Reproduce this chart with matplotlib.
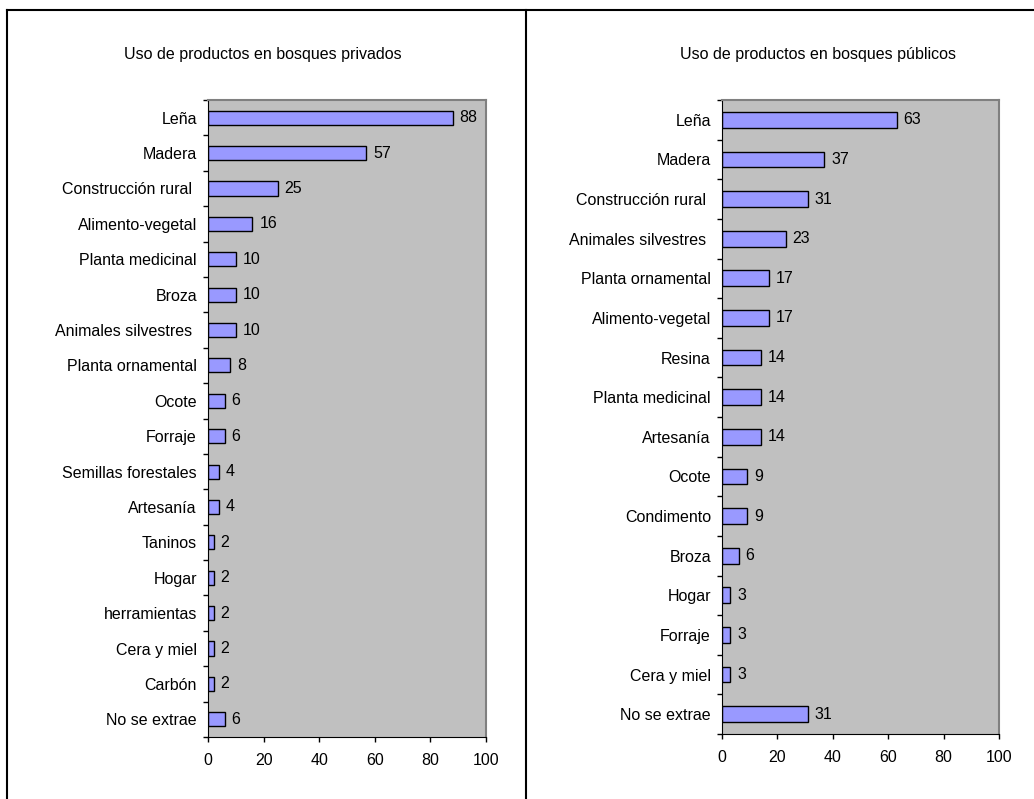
import matplotlib.pyplot as plt
from matplotlib.lines import Line2D

plt.rcParams['font.family'] = ['Liberation Sans', 'DejaVu Sans']

priv_labels = ['Leña', 'Madera', 'Construcción rural ', 'Alimento-vegetal', 'Planta medicinal',
               'Broza', 'Animales silvestres ', 'Planta ornamental', 'Ocote', 'Forraje',
               'Semillas forestales', 'Artesanía', 'Taninos', 'Hogar', 'herramientas',
               'Cera y miel', 'Carbón', 'No se extrae']
priv_values = [88, 57, 25, 16, 10, 10, 10, 8, 6, 6, 4, 4, 2, 2, 2, 2, 2, 6]

pub_labels = ['Leña', 'Madera', 'Construcción rural ', 'Animales silvestres ', 'Planta ornamental',
              'Alimento-vegetal', 'Resina', 'Planta medicinal', 'Artesanía', 'Ocote',
              'Condimento', 'Broza', 'Hogar', 'Forraje', 'Cera y miel', 'No se extrae']
pub_values = [63, 37, 31, 23, 17, 17, 14, 14, 14, 9, 9, 6, 3, 3, 3, 31]

xticks = [0, 20, 40, 60, 80, 100]

W, H = 1034, 799
FS = 11.5
fig = plt.figure(figsize=(W / 100, H / 100), dpi=100)


def px_axes(x0, y0, x1, y1):
    return fig.add_axes([x0 / W, 1 - y1 / H, (x1 - x0) / W, (y1 - y0) / H])


def draw_panel(ax, labels, values, title, cx):
    n = len(labels)
    pos = list(range(n))
    ax.set_facecolor('#C0C0C0')
    ax.barh(pos, values, height=0.4, color='#9999FF', edgecolor='black', linewidth=1)
    for p, v in zip(pos, values):
        ax.annotate(str(v), (v, p), xytext=(5, 0), textcoords='offset points',
                    va='center', ha='left', fontsize=FS)
    ax.set_xlim(0, 100)
    ax.set_ylim(n - 0.5, -0.5)
    ax.set_xticks(xticks)
    ax.set_xticklabels([str(t) for t in xticks], fontsize=FS)
    ax.set_yticks([p - 0.5 for p in pos] + [n - 0.5])
    ax.set_yticklabels([])
    ax.set_yticks(pos, minor=True)
    ax.set_yticklabels(labels, minor=True, fontsize=FS)
    ax.tick_params(axis='y', which='minor', length=0, pad=8)
    ax.tick_params(axis='y', which='major', length=3.5, width=1)
    ax.tick_params(axis='x', length=3.5, width=1, pad=8)
    for s in ['top', 'right']:
        ax.spines[s].set_color('#808080')
        ax.spines[s].set_linewidth(1.5)
    for s in ['left', 'bottom']:
        ax.spines[s].set_color('black')
    fig.text(cx / W, 1 - 55 / H, title, ha='center', va='center', fontsize=FS)


ax1 = px_axes(208, 100, 486, 737)
draw_panel(ax1, priv_labels, priv_values, 'Uso de productos en bosques privados', 263)

ax2 = px_axes(722, 100, 999, 734)
draw_panel(ax2, pub_labels, pub_values, 'Uso de productos en bosques públicos', 818)

# outer frame
for xs, ys in [([7, W], [10, 10]), ([7, 7], [10, H]), ([526, 526], [10, H])]:
    fig.add_artist(Line2D([x / W for x in xs], [1 - y / H for y in ys],
                          color='black', linewidth=1.5, transform=fig.transFigure))

fig.savefig('out.png', dpi=100)
